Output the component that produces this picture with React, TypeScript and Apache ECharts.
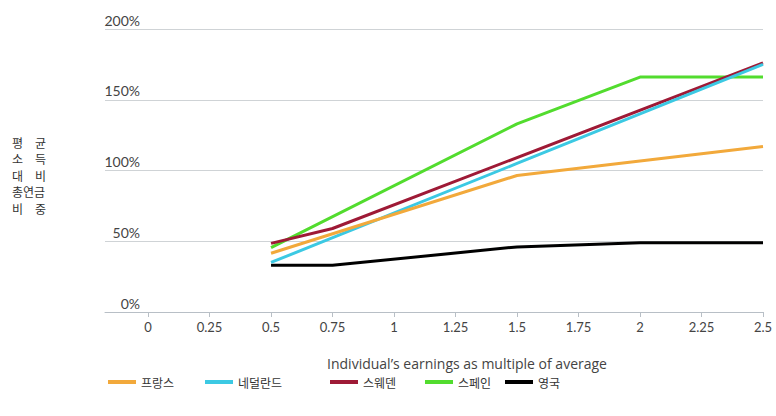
import React, { useEffect, useRef } from "react";
import * as echarts from "echarts";

const xTicks = [0, 0.25, 0.5, 0.75, 1, 1.25, 1.5, 1.75, 2, 2.25, 2.5];
const yTicks = [0, 50, 100, 150, 200];

const franceX = [0.5, 1.5, 2.5];
const franceY = [41.5, 96.5, 117];
const netherlandsX = [0.5, 1.5, 2.5];
const netherlandsY = [35, 105, 175];
const swedenX = [0.5, 0.75, 2.5];
const swedenY = [48.5, 59, 176];
const spainX = [0.5, 1.5, 2, 2.5];
const spainY = [45.5, 133, 166, 166];
const ukX = [0.5, 0.75, 1.5, 2, 2.5];
const ukY = [33, 33, 46, 49, 49];

const seriesNames = ["프랑스", "네덜란드", "스웨덴", "스페인", "영국"];
const seriesColors = ["#f2a93b", "#3cc9e3", "#9e1a36", "#52dc2e", "#000000"];
const legendLeft = [108, 205, 330, 425, 505];

const yTitleLines = ["평　균", "소　득", "대　비", "총연금", "비　중"];
const xTitle = "Individual’s earnings as multiple of average";

const FONT = "Lato, 'Noto Sans', 'Noto Sans CJK KR', sans-serif";

function pairs(xs: number[], ys: number[]) {
  return xs.map((x, i) => [x, ys[i]]);
}

export default function App() {
  const ref = useRef<HTMLDivElement>(null);
  useEffect(() => {
    if (!ref.current) return;
    const chart = echarts.init(ref.current, undefined, { renderer: "svg" });
    const allData = [
      pairs(franceX, franceY),
      pairs(netherlandsX, netherlandsY),
      pairs(swedenX, swedenY),
      pairs(spainX, spainY),
      pairs(ukX, ukY),
    ];
    const series = seriesNames.map((name, i) => ({
      name,
      type: "line",
      data: allData[i],
      showSymbol: false,
      symbol: "none",
      lineStyle: { color: seriesColors[i], width: 3 },
      itemStyle: { color: seriesColors[i] },
      z: 10 - i,
    }));
    const legends = seriesNames.map((name, i) => ({
      show: true,
      left: legendLeft[i],
      top: 376,
      data: [name],
      icon: "rect",
      itemWidth: 28,
      itemHeight: 4,
      itemGap: 0,
      padding: 0,
      textStyle: { fontFamily: "'Noto Sans CJK KR', sans-serif", fontSize: 12, color: "#333" },
    }));
    chart.setOption({
      animation: false,
      backgroundColor: "#ffffff",
      grid: { left: 105, right: 13, top: 29, bottom: 104 },
      legend: legends,
      xAxis: {
        type: "value",
        min: -0.175,
        max: 2.5,
        axisLine: { show: true, lineStyle: { color: "#b8bfc6", width: 1 } },
        axisTick: {
          show: true,
          customValues: xTicks,
          length: 5,
          lineStyle: { color: "#b8bfc6" },
        },
        axisLabel: {
          customValues: xTicks,
          margin: 8,
          fontFamily: FONT,
          fontSize: 13,
          color: "#444",
          formatter: (v: number) => String(v),
        },
        splitLine: { show: false },
      },
      yAxis: {
        type: "value",
        min: 0,
        max: 200,
        interval: 50,
        axisLine: { show: false },
        axisTick: { show: false },
        axisLabel: {
          margin: -35,
          align: "right",
          verticalAlign: "bottom",
          padding: [0, 0, 2, 0],
          fontFamily: FONT,
          fontSize: 14,
          color: "#444",
          formatter: (v: number) => (yTicks.includes(v) ? v + "%" : ""),
        },
        splitLine: { show: true, lineStyle: { color: "#cfd3d6", width: 1 } },
      },
      graphic: [
        {
          type: "text",
          left: 12,
          top: 134,
          style: {
            text: yTitleLines.join("\n"),
            font: "12px 'Noto Sans CJK KR', sans-serif",
            lineHeight: 16.5,
            fill: "#333",
          },
        },
        {
          type: "text",
          x: 467,
          y: 363,
          style: {
            text: xTitle,
            align: "center",
            verticalAlign: "middle",
            fontFamily: "'Open Sans', sans-serif",
            fontSize: 14,
            fill: "#444",
          },
        },
      ],
      series,
    });
    return () => chart.dispose();
  }, []);
  return (
    <div
      ref={ref}
      style={{ position: "absolute", left: 0, top: 0, width: 776, height: 416 }}
    />
  );
}
